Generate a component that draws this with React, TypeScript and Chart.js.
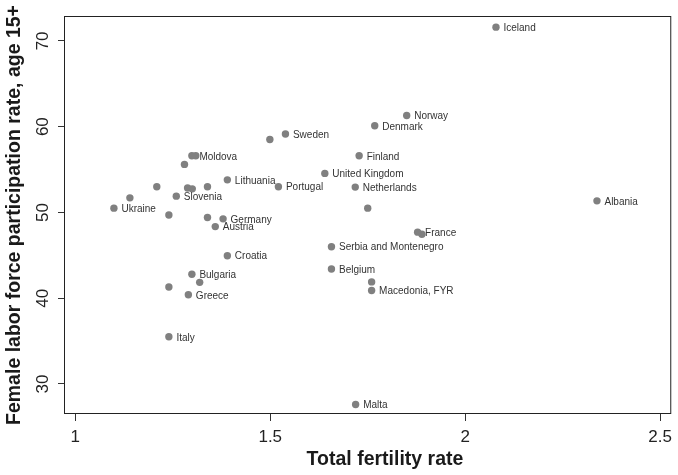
import React, { useEffect, useRef } from "react";
import { Chart, registerables } from "chart.js";

Chart.register(...registerables);

const countries = [
  "Iceland", "Norway", "Denmark", "Sweden", "", "Finland", "United Kingdom", "Portugal",
  "Netherlands", "", "France", "", "Serbia and Montenegro", "Belgium", "", "Macedonia, FYR",
  "Malta", "Albania", "Moldova", "", "", "", "", "", "", "Lithuania", "", "Slovenia",
  "Ukraine", "", "", "Germany", "Austria", "Croatia", "Bulgaria", "", "", "Greece", "Italy",
];
const fertility = [
  2.079, 1.850, 1.768, 1.539, 1.499, 1.728, 1.640, 1.521,
  1.718, 1.750, 1.878, 1.889, 1.657, 1.657, 1.760, 1.760,
  1.719, 2.338, 1.299, 1.309, 1.280, 1.209, 1.288, 1.300, 1.339, 1.390, 1.140, 1.259,
  1.099, 1.240, 1.339, 1.379, 1.359, 1.390, 1.299, 1.319, 1.240, 1.290, 1.240,
];
const participation = [
  71.6, 61.3, 60.1, 59.15, 58.5, 56.6, 54.55, 53.0,
  52.95, 50.5, 47.7, 47.45, 46.0, 43.4, 41.9, 40.9,
  27.6, 51.35, 56.6, 56.6, 55.6, 53.0, 52.85, 52.75, 53.0, 53.8, 51.7, 51.9,
  50.5, 49.7, 49.4, 49.25, 48.35, 44.95, 42.8, 41.85, 41.3, 40.4, 35.5,
];
const xTicks = [1, 1.5, 2, 2.5];
const yTicks = [30, 40, 50, 60, 70];
const yTickLabels = ["30", "40", "50", "60", "70"];
const xTitle = "Total fertility rate";
const yTitle = "Female labor force participation rate, age 15+";

const FONT = '"Liberation Sans", Arial, Helvetica, sans-serif';

const decor = {
  id: "decor",
  afterDatasetsDraw(chart: any) {
    const { ctx } = chart;
    const meta = chart.getDatasetMeta(0);
    ctx.save();
    ctx.font = `10px ${FONT}`;
    ctx.fillStyle = "#333";
    ctx.textAlign = "left";
    ctx.textBaseline = "middle";
    meta.data.forEach((el: any, i: number) => {
      const t = countries[i];
      if (t) ctx.fillText(t, el.x + 7.5, el.y + 1);
    });
    ctx.restore();
  },
  afterDraw(chart: any) {
    const { ctx, chartArea: a, scales } = chart;
    ctx.save();
    ctx.strokeStyle = "#222";
    ctx.lineWidth = 1;
    ctx.strokeRect(a.left + 0.5, a.top + 0.5, a.right - a.left, a.bottom - a.top - 1);
    // y tick labels, rotated
    ctx.fillStyle = "#222";
    ctx.font = `17px ${FONT}`;
    ctx.textAlign = "center";
    ctx.textBaseline = "middle";
    yTicks.forEach((v, i) => {
      const py = scales.y.getPixelForValue(v);
      ctx.save();
      ctx.translate(43, py);
      ctx.rotate(-Math.PI / 2);
      ctx.fillText(yTickLabels[i], 0, 0);
      ctx.restore();
    });
    // axis titles
    ctx.font = `bold 19.5px ${FONT}`;
    ctx.fillStyle = "#1a1a1a";
    ctx.fillText(xTitle, 385, 460);
    ctx.save();
    ctx.translate(15, (a.top + a.bottom) / 2);
    ctx.rotate(-Math.PI / 2);
    ctx.fillText(yTitle, 0, 0);
    ctx.restore();
    ctx.restore();
  },
};

export default function App() {
  const ref = useRef<HTMLCanvasElement>(null);
  useEffect(() => {
    if (!ref.current) return;
    const chart = new Chart(ref.current, {
      type: "scatter",
      data: {
        datasets: [
          {
            data: fertility.map((x, i) => ({ x, y: participation[i] })),
            backgroundColor: "#808080",
            borderWidth: 0,
            pointRadius: 3.7,
            pointHoverRadius: 3.7,
          },
        ],
      },
      options: {
        animation: false,
        responsive: false,
        devicePixelRatio: 1,
        layout: { padding: { top: 16, right: 1, left: 0, bottom: 0 } },
        plugins: { legend: { display: false }, tooltip: { enabled: false } },
        scales: {
          x: {
            type: "linear",
            min: 0.971,
            max: 2.526,
            afterBuildTicks: (s: any) => {
              s.ticks = xTicks.map((v) => ({ value: v }));
            },
            afterFit: (s: any) => {
              s.height = 61;
            },
            border: { display: false },
            grid: {
              drawOnChartArea: false,
              drawTicks: true,
              tickLength: 7,
              color: "#333",
            },
            ticks: {
              color: "#222",
              font: { family: FONT, size: 17 },
              padding: 6,
              maxRotation: 0,
              autoSkip: false,
              callback: (v: any) => String(v),
            },
          },
          y: {
            type: "linear",
            min: 26.5,
            max: 72.9,
            afterBuildTicks: (s: any) => {
              s.ticks = yTicks.map((v) => ({ value: v }));
            },
            afterFit: (s: any) => {
              s.width = 64;
            },
            border: { display: false },
            grid: {
              drawOnChartArea: false,
              drawTicks: true,
              tickLength: 6,
              color: "#333",
            },
            ticks: { display: false },
          },
        },
      },
      plugins: [decor],
    });
    return () => chart.destroy();
  }, []);
  return (
    <div style={{ position: "absolute", left: 0, top: 0, width: 678, height: 475 }}>
      <canvas ref={ref} width={678} height={475} style={{ width: 678, height: 475, display: "block" }} />
    </div>
  );
}
